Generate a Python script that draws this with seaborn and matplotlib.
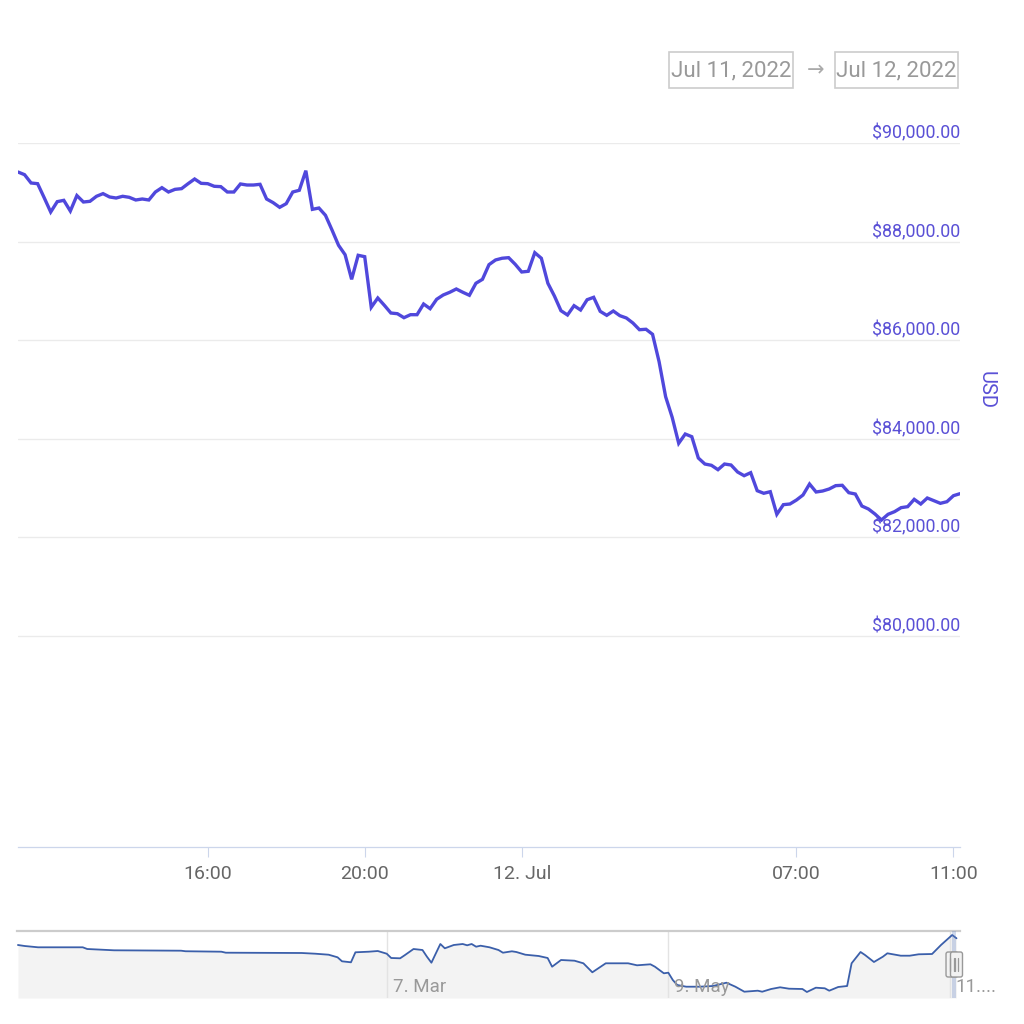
import numpy as np
import pandas as pd
import matplotlib
matplotlib.use("Agg")
import matplotlib.pyplot as plt
import matplotlib.dates as mdates
from matplotlib.patches import Rectangle, FancyBboxPatch
from matplotlib.lines import Line2D
import seaborn as sns

# ------------------------------------------------------------------ data
main_start = "2022-07-11 11:10"          # first sample, 10-minute samples
main_prices = [
    89411, 89357, 89188, 89174, 88890, 88599, 88809, 88836, 88619, 88933,
    88802, 88816, 88918, 88972, 88904, 88883, 88918, 88897, 88843, 88863,
    88843, 89005, 89093, 89005, 89059, 89073, 89174, 89269, 89181, 89174,
    89121, 89114, 89005, 89005, 89168, 89147, 89147, 89161, 88863, 88789,
    88694, 88768, 89005, 89040, 89438, 88653, 88680, 88532, 88234, 87923,
    87732, 87232, 87720, 87692, 86664, 86853, 86705, 86548, 86534, 86453,
    86514, 86514, 86731, 86636, 86827, 86914, 86969, 87036, 86969, 86908,
    87152, 87232, 87530, 87625, 87660, 87672,
    87538, 87381, 87395, 87773, 87660, 87152, 86893, 86595, 86508, 86697,
    86609, 86818, 86867, 86582, 86501, 86589, 86494, 86447, 86345, 86209,
    86218, 86116, 85560, 84849, 84431, 83903, 84091, 84037, 83604, 83482,
    83456, 83367, 83482, 83462, 83320, 83245, 83306, 82940, 82888, 82920,
    82461, 82657, 82670, 82751, 82853, 83076, 82914, 82934, 82975, 83043,
    83050, 82900, 82873, 82629, 82569, 82467, 82345, 82461, 82515, 82596,
    82616, 82765, 82670, 82792, 82738, 82684, 82717, 82839, 82880,
]

y_ticks = [80000, 82000, 84000, 86000, 88000, 90000]
y_tick_labels = ["$80,000.00", "$82,000.00", "$84,000.00",
                 "$86,000.00", "$88,000.00", "$90,000.00"]
y_view = (75706, 90000)

x_tick_times = ["2022-07-11 16:00", "2022-07-11 20:00", "2022-07-12 00:00",
                "2022-07-12 07:00", "2022-07-12 11:00"]
x_tick_labels = ["16:00", "20:00", "12. Jul", "07:00", "11:00"]

nav_dates = [
    "2021-12-14 12:00", "2021-12-16", "2021-12-19", "2021-12-29", "2021-12-30",
    "2022-01-05", "2022-01-20", "2022-01-21", "2022-01-29", "2022-01-30",
    "2022-02-16", "2022-02-19", "2022-02-22", "2022-02-24", "2022-02-25",
    "2022-02-27", "2022-02-28", "2022-03-03", "2022-03-05", "2022-03-07",
    "2022-03-08", "2022-03-10", "2022-03-11", "2022-03-13", "2022-03-15",
    "2022-03-16", "2022-03-17", "2022-03-18", "2022-03-19", "2022-03-20",
    "2022-03-22", "2022-03-24", "2022-03-25", "2022-03-26", "2022-03-27",
    "2022-03-28", "2022-03-30", "2022-04-01", "2022-04-02", "2022-04-04",
    "2022-04-05", "2022-04-07", "2022-04-10", "2022-04-12", "2022-04-13",
    "2022-04-15", "2022-04-18", "2022-04-20", "2022-04-22", "2022-04-25",
    "2022-04-30", "2022-05-02", "2022-05-05", "2022-05-06", "2022-05-08",
    "2022-05-09", "2022-05-10", "2022-05-11", "2022-05-13", "2022-05-16",
    "2022-05-19", "2022-05-22", "2022-05-24", "2022-05-26", "2022-05-29",
    "2022-05-30", "2022-06-01", "2022-06-03", "2022-06-05", "2022-06-08",
    "2022-06-09", "2022-06-11", "2022-06-13", "2022-06-14", "2022-06-16",
    "2022-06-18", "2022-06-19", "2022-06-21", "2022-06-22", "2022-06-24",
    "2022-06-26", "2022-06-27", "2022-06-30", "2022-07-02", "2022-07-04",
    "2022-07-07", "2022-07-09", "2022-07-11 12:00", "2022-07-12 11:10",
]
nav_values = [
    84400, 84000, 83480, 83480, 82800,
    82280, 82120, 81900, 81720, 81320,
    81200, 80920, 80520, 79480, 77880,
    77480, 81480, 81720, 82000, 80920,
    79200, 79080, 80280, 82800, 82400,
    79720, 77320, 81080, 84800, 83080,
    84400, 84800, 84280, 84800, 83720,
    84120, 83480, 82400, 81320, 81880,
    81600, 80520, 80000, 79200, 75720,
    78400, 78120, 77080, 73480, 77080,
    77080, 76280, 76680, 75720, 73080,
    73320, 70400, 68400, 67720, 67720,
    68000, 69320, 67720, 65720, 66120,
    65720, 66800, 67480, 66920, 66800,
    65600, 67320, 67080, 66120, 67600,
    68000, 77080, 81600, 80400, 77600,
    79720, 81080, 80120, 80120, 80680,
    80800, 84400, 88400, 87080,
]
nav_y_view = (63200, 90000)
nav_x_view = ("2021-12-14 07:00", "2022-07-13 06:00")
nav_tick_dates = ["2022-03-07", "2022-05-09", "2022-07-11"]
nav_tick_labels = ["7. Mar", "9. May", "11...."]

range_from = "Jul 11, 2022"
range_to = "Jul 12, 2022"
axis_title = "USD"

# ------------------------------------------------------------------ style
LINE = "#5048dc"
LABEL = "#5a50d6"
GRID = "#ebebeb"
AXIS = "#ccd6eb"
TXT = "#666666"
NAVLINE = "#3b5faa"

sns.set_theme(style="white")
plt.rcParams["font.family"] = ["Roboto", "DejaVu Sans"]

W = H = 1024
fig = plt.figure(figsize=(W / 100, H / 100), dpi=100)
fig.patch.set_facecolor("white")


def fx(px):
    return px / W


def fy(py):
    return 1 - py / H


# ------------------------------------------------------------------ main chart
main_times = pd.date_range(main_start, periods=len(main_prices), freq="10min")
df = pd.DataFrame({"time": main_times, "price": main_prices})

ax = fig.add_axes([fx(18), fy(847), fx(942), 704 / H])
sns.lineplot(data=df, x="time", y="price", ax=ax, color=LINE, lw=2.4,
             solid_joinstyle="miter", zorder=3)
ax.set_xlim(main_times[0], main_times[-1])
ax.set_ylim(*y_view)
ax.set_xlabel("")
ax.set_ylabel("")

ax.set_yticks(y_ticks)
ax.yaxis.grid(True, color=GRID, lw=1.0)
ax.xaxis.grid(False)
ax.tick_params(axis="y", left=False, right=False, labelleft=False, labelright=False)
for v, lab in zip(y_ticks, y_tick_labels):
    ax.annotate(lab, xy=(1.0, v), xycoords=("axes fraction", "data"),
                xytext=(0, 3.2), textcoords="offset points",
                ha="right", va="baseline", fontsize=12.8, color=LABEL,
                annotation_clip=False)

ax.set_xticks(pd.to_datetime(x_tick_times))
ax.set_xticklabels(x_tick_labels)
ax.tick_params(axis="x", bottom=True, length=7.2, width=0.8, color=AXIS,
               labelsize=14, labelcolor=TXT, pad=5.5)
for s in ["top", "left", "right"]:
    ax.spines[s].set_visible(False)
ax.spines["bottom"].set_color(AXIS)
ax.spines["bottom"].set_linewidth(0.9)

fig.text(fx(986), fy(390), axis_title, rotation=-90, ha="center", va="center",
         fontsize=14.5, color=LABEL)

# ------------------------------------------------------------------ range selector boxes
for x0, w, txt in [(669, 124, range_from), (835, 123, range_to)]:
    fig.add_artist(Rectangle((fx(x0), fy(88)), fx(w), 36 / H,
                             transform=fig.transFigure, fill=False,
                             ec="#cccccc", lw=1.2))
    fig.text(fx(x0 + w / 2), fy(70.5), txt, ha="center", va="center",
             fontsize=16, color="#999999")
fig.text(fx(816), fy(70), "\u2192", ha="center", va="center",
         fontsize=15, color="#aaaaaa", family=["DejaVu Sans"])

# ------------------------------------------------------------------ navigator
nav_dt = pd.to_datetime(nav_dates, format="mixed")
ndf = pd.DataFrame({"date": nav_dt, "value": nav_values})
axn = fig.add_axes([fx(17), fy(998), fx(943), 67 / H])
axn.fill_between(nav_dt, nav_values, nav_y_view[0], color="#f3f3f3", lw=0, zorder=0)
sns.lineplot(data=ndf, x="date", y="value", ax=axn, color=NAVLINE, lw=1.3, zorder=3)
axn.set_ylim(*nav_y_view)
axn.set_xlim(pd.Timestamp(nav_x_view[0]), pd.Timestamp(nav_x_view[1]))
axn.set_xlabel("")
axn.set_ylabel("")
axn.set_yticks([])
axn.set_xticks(pd.to_datetime(nav_tick_dates))
axn.xaxis.grid(True, color="#e3e3e3", lw=1.0)
axn.tick_params(axis="x", bottom=False, labelbottom=False, length=0)
for s in ["left", "right", "bottom"]:
    axn.spines[s].set_visible(False)
axn.spines["top"].set_color("#cccccc")
axn.spines["top"].set_linewidth(1.6)
axn.set_facecolor("white")
for d, lab in zip(pd.to_datetime(nav_tick_dates), nav_tick_labels):
    axn.annotate(lab, xy=(d, 0), xycoords=("data", "axes fraction"),
                 xytext=(4.3, 4.6), textcoords="offset points",
                 ha="left", va="baseline", fontsize=13.5, color="#999999",
                 annotation_clip=False, zorder=5)

# selected range mask
axn.axvspan(main_times[0], main_times[-1], color=(102 / 255, 133 / 255, 194 / 255, 0.3),
            lw=0, zorder=4)

# handles at both ends of the selection
x0n, x1n = mdates.date2num(pd.Timestamp(nav_x_view[0])), mdates.date2num(pd.Timestamp(nav_x_view[1]))
for t in [main_times[0], main_times[-1]]:
    frac = (mdates.date2num(t) - x0n) / (x1n - x0n)
    xc = 17 + frac * 943
    hw, top, bot = 12, 952, 977
    fig.add_artist(FancyBboxPatch((fx(xc - hw / 2), fy(bot)), fx(hw), (bot - top) / H,
                                  boxstyle="round,pad=0,rounding_size=0.002",
                                  transform=fig.transFigure, fc="#f2f2f2",
                                  ec="#999999", lw=1.0, zorder=6))
    for dx in (-1.6, 1.6):
        fig.add_artist(Line2D([fx(xc + dx), fx(xc + dx)], [fy(top + 6), fy(bot - 6)],
                              transform=fig.transFigure, color="#999999", lw=0.9,
                              zorder=7))

fig.savefig("out.png", dpi=100, facecolor="white")
